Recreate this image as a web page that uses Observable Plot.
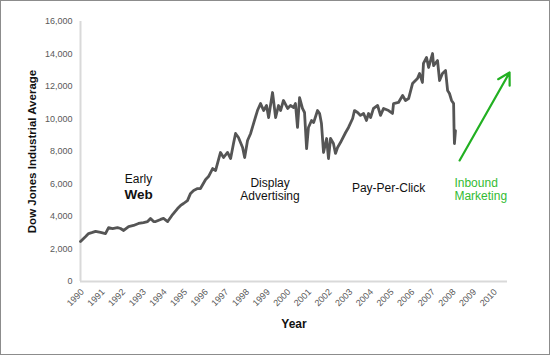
<!DOCTYPE html>
<html><head><meta charset="utf-8">
<script src="https://cdn.jsdelivr.net/npm/d3@7"></script>
<script src="https://cdn.jsdelivr.net/npm/@observablehq/plot@0.6"></script>
<style>
html,body{margin:0;padding:0;background:#fff;}
#wrap{position:relative;width:550px;height:355px;overflow:hidden;}
#chart svg{position:absolute;left:0;top:0;}
#border{position:absolute;left:0;top:0;width:550px;height:355px;box-sizing:border-box;border:1px solid #8c8c8c;pointer-events:none;}
</style></head><body>
<div id="wrap"><div id="chart"></div><div id="border"></div></div>
<script>
// Dow Jones Industrial Average
const years = [1989.90,1990.05,1990.15,1990.29,1990.48,1990.63,1990.87,1991.11,1991.26,1991.45,1991.69,1991.84,1991.99,1992.23,1992.47,1992.71,1992.95,1993.15,1993.29,1993.44,1993.54,1993.78,1993.92,1994.12,1994.26,1994.36,1994.60,1994.75,1994.89,1995.08,1995.23,1995.38,1995.57,1995.71,1995.96,1996.10,1996.30,1996.44,1996.68,1996.83,1997.02,1997.17,1997.31,1997.41,1997.55,1997.75,1997.85,1997.99,1998.14,1998.28,1998.47,1998.62,1998.77,1998.91,1999.01,1999.20,1999.35,1999.49,1999.59,1999.73,1999.93,2000.07,2000.22,2000.31,2000.41,2000.51,2000.65,2000.75,2000.85,2000.94,2001.09,2001.19,2001.38,2001.48,2001.57,2001.67,2001.82,2001.91,2002.01,2002.15,2002.25,2002.35,2002.49,2002.74,2002.88,2003.08,2003.17,2003.32,2003.46,2003.61,2003.75,2003.85,2003.95,2004.09,2004.29,2004.43,2004.58,2004.82,2005.01,2005.06,2005.30,2005.50,2005.64,2005.79,2005.98,2006.22,2006.32,2006.46,2006.51,2006.66,2006.76,2006.95,2007.00,2007.19,2007.29,2007.43,2007.58,2007.68,2007.77,2007.87,2007.97,2007.99,2008.01,2008.06];
const dow = [2460,2650,2770,2950,3020,3080,3020,2950,3320,3260,3320,3260,3140,3380,3450,3570,3630,3690,3880,3690,3690,3820,3880,3690,3940,4120,4490,4680,4800,4980,5420,5600,5720,5720,6280,6460,6950,6830,7940,7630,7940,7570,8490,9110,8860,8250,7630,8680,9110,9720,10520,10950,10520,10830,10090,11630,10090,10830,10520,11140,10650,10830,10710,10950,9480,11320,10650,10400,8180,9480,9910,9780,10520,10340,9720,7940,8800,7570,8800,8490,7880,8250,8550,9170,9480,10030,10520,10400,10220,10340,9910,10340,10090,10650,10830,10220,10650,10520,10340,10950,11020,11450,11140,11260,12180,12490,12800,12250,13420,13790,13170,14030,13290,13600,12370,12800,12980,11750,11570,11140,10950,9480,8490,9290];

const xTicks = [1990,1991,1992,1993,1994,1995,1996,1997,1998,1999,2000,2001,2002,2003,2004,2005,2006,2007,2008,2009,2010];
const yTicks = [0,2000,4000,6000,8000,10000,12000,14000,16000];

// Annotation labels
const eraLabels = ["Early", "Web", "Display\nAdvertising", "Pay-Per-Click"];
const eraX = [1992.71, 1992.71, 1999.08, 2004.82];
const eraY = [6280, 5350, 5690, 5780];
const inboundLabel = "Inbound\nMarketing";
const inboundX = 2008.01;
const inboundY = 5690;
// Arrow (start / end)
const arrowX = [2008.26, 2010.68];
const arrowY = [7450, 12860];

const series = years.map((x, i) => ({x, y: dow[i]}));
const eras = eraLabels.map((t, i) => ({t, x: eraX[i], y: eraY[i]}));

const font = "'Liberation Sans', Arial, sans-serif";
const plot = Plot.plot({
  width: 550, height: 355,
  marginLeft: 80, marginRight: 43, marginTop: 21, marginBottom: 74,
  style: {fontFamily: font, background: "transparent", overflow: "visible"},
  x: {domain: [1989.9, 2010.58]},
  y: {domain: [0, 16000]},
  marks: [
    Plot.ruleY([0], {stroke: "#d9d9d9", strokeWidth: 2}),
    Plot.ruleX([1989.9], {stroke: "#d9d9d9", strokeWidth: 2}),
    Plot.axisY({ticks: yTicks, tickSize: 0, tickPadding: 8, tickFormat: d3.format(","), fontSize: 9, fill: "#595959", label: null}),
    Plot.axisX({ticks: xTicks, tickSize: 0, tickPadding: 9, tickRotate: -45, tickFormat: d => String(d), fontSize: 9, fill: "#595959", label: null}),
    Plot.line(series, {x: "x", y: "y", stroke: "#555555", strokeWidth: 2.8, strokeLinejoin: "round"}),
    Plot.arrow([{x1: arrowX[0], y1: arrowY[0], x2: arrowX[1], y2: arrowY[1]}], {x1: "x1", y1: "y1", x2: "x2", y2: "y2", stroke: "#22b022", strokeWidth: 2.2, headLength: 9}),
    Plot.text([eras[0]], {x: "x", y: "y", text: "t", fontSize: 12, fill: "#111"}),
    Plot.text([eras[1]], {x: "x", y: "y", text: "t", fontSize: 13.5, fontWeight: "bold", fill: "#111"}),
    Plot.text(eras.slice(2), {x: "x", y: "y", text: "t", fontSize: 12, fill: "#111", lineHeight: 1.1}),
    Plot.text([{t: inboundLabel, x: inboundX, y: inboundY}], {x: "x", y: "y", text: "t", fontSize: 12, fill: "#33bb33", textAnchor: "start", lineHeight: 1.1}),
    Plot.text(["Year"], {frameAnchor: "bottom", dy: 46, text: d => d, fontSize: 12, fontWeight: "bold", fill: "#111"}),
    Plot.text(["Dow Jones Industrial Average"], {frameAnchor: "left", dx: -48, rotate: -90, textAnchor: "middle", text: d => d, fontSize: 11.5, fontWeight: "bold", fill: "#111"})
  ]
});
document.getElementById("chart").appendChild(plot);
</script>
</body></html>
